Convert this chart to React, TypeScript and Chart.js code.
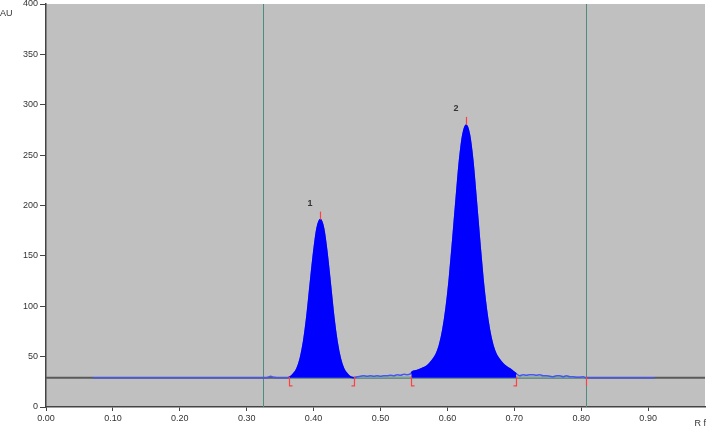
import { useEffect, useRef } from "react";
import { Chart, registerables } from "chart.js";

Chart.register(...registerables);

// ---- data ----
const TRACE_RF = [
  0.07, 0.3, 0.33, 0.336, 0.34, 0.345, 0.355, 0.36,
  0.365, 0.37, 0.375, 0.38, 0.385, 0.39, 0.395, 0.4, 0.405, 0.41, 0.415, 0.42, 0.425, 0.43, 0.435, 0.44, 0.445, 0.45, 0.455, 0.46,
  0.465, 0.47, 0.475, 0.48, 0.485, 0.49, 0.495, 0.5, 0.505, 0.51, 0.515, 0.52, 0.525, 0.53, 0.535, 0.54, 0.545,
  0.548, 0.553, 0.558, 0.563, 0.568, 0.573, 0.578, 0.583, 0.588, 0.593, 0.598, 0.603, 0.608, 0.613, 0.618, 0.623, 0.628,
  0.633, 0.638, 0.643, 0.648, 0.653, 0.658, 0.663, 0.668, 0.673, 0.678, 0.683, 0.688, 0.693, 0.698, 0.703,
  0.708, 0.713, 0.718, 0.723, 0.728, 0.733, 0.738, 0.743, 0.748, 0.753, 0.758, 0.763, 0.768, 0.773, 0.778, 0.783, 0.788, 0.793, 0.798, 0.803, 0.807, 0.91,
];
const TRACE_AU = [
  29, 29, 29, 30.5, 29.5, 29, 29, 29,
  30, 33, 38, 48, 65, 90, 122, 153, 177, 186, 177, 153, 122, 90, 65, 48, 38, 33, 30, 29,
  30, 30.5, 31, 30.5, 31, 30.5, 31, 30.5, 31, 31, 31.5, 31, 32, 31.5, 32.5, 32, 33,
  35, 36, 37, 38.5, 40, 43, 47, 52, 61, 76, 98, 128, 166, 206, 244, 270, 280,
  270, 244, 206, 166, 128, 98, 76, 61, 52, 47, 43, 40, 38, 35.5, 33,
  31, 32, 31.5, 32, 32, 31.5, 32, 31, 31, 30.5, 30, 31, 31, 30, 31, 30, 30, 29.5, 29.5, 30, 29, 29,
];

const PEAK_LABELS = ["1", "2"];
const PEAK_RF = [0.41, 0.628];
const PEAK_AU = [186, 280];
const PEAK_START = [0.363, 0.546];
const PEAK_END = [0.46, 0.703];
const TRACK_LIMITS = [0.325, 0.807];
const BASELINE_AU = 29;

const X_MIN = 0;
const X_MAX = 0.985;
const Y_MIN = 0;
const Y_MAX = 400;
const X_TICKS = [0, 0.1, 0.2, 0.3, 0.4, 0.5, 0.6, 0.7, 0.8, 0.9];
const Y_TICKS = [0, 50, 100, 150, 200, 250, 300, 350, 400];

const FONT = "'Liberation Sans', Arial, sans-serif";

function traceAt(x: number): number {
  for (let i = 0; i < TRACE_RF.length - 1; i++) {
    const a = TRACE_RF[i];
    const b = TRACE_RF[i + 1];
    if (x >= a && x <= b) {
      const t = (x - a) / (b - a);
      return TRACE_AU[i] + t * (TRACE_AU[i + 1] - TRACE_AU[i]);
    }
  }
  return BASELINE_AU;
}

function peakFill(start: number, end: number) {
  const pts: { x: number; y: number }[] = [{ x: start, y: traceAt(start) }];
  TRACE_RF.forEach((x, i) => {
    if (x > start && x < end) pts.push({ x, y: TRACE_AU[i] });
  });
  pts.push({ x: end, y: traceAt(end) });
  return pts;
}

const decorPlugin = {
  id: "decor",
  beforeDraw(chart: any) {
    const { ctx, chartArea } = chart;
    ctx.save();
    ctx.fillStyle = "#c0c0c0";
    ctx.fillRect(chartArea.left, chartArea.top, chartArea.right - chartArea.left, chartArea.bottom - chartArea.top);
    ctx.restore();
  },
  beforeDatasetsDraw(chart: any) {
    const { ctx, chartArea, scales } = chart;
    ctx.save();
    ctx.strokeStyle = "#4e8c7e";
    ctx.lineWidth = 1;
    TRACK_LIMITS.forEach((v) => {
      const x = Math.round(scales.x.getPixelForValue(v)) + 0.5;
      ctx.beginPath();
      ctx.moveTo(x, chartArea.top);
      ctx.lineTo(x, chartArea.bottom);
      ctx.stroke();
    });
    ctx.restore();
  },
  afterDatasetsDraw(chart: any) {
    const { ctx, scales } = chart;
    const xs = scales.x;
    const ys = scales.y;
    const base = ys.getPixelForValue(BASELINE_AU);
    ctx.save();
    ctx.strokeStyle = "#ff4040";
    ctx.lineWidth = 1.2;
    const bracket = (v: number, dir: number) => {
      const x = Math.round(xs.getPixelForValue(v)) + 0.5;
      ctx.beginPath();
      ctx.moveTo(x, base - 1);
      ctx.lineTo(x, base + 8);
      if (dir !== 0) ctx.lineTo(x + dir * 3, base + 8);
      ctx.stroke();
    };
    PEAK_START.forEach((v) => bracket(v, 1));
    PEAK_END.forEach((v) => bracket(v, -1));
    bracket(TRACK_LIMITS[1], 0);
    PEAK_RF.forEach((v, i) => {
      const x = Math.round(xs.getPixelForValue(v)) + 0.5;
      const y = ys.getPixelForValue(PEAK_AU[i]);
      ctx.beginPath();
      ctx.moveTo(x, y);
      ctx.lineTo(x, y - 8);
      ctx.stroke();
      ctx.fillStyle = "#333";
      ctx.font = `bold 9px ${FONT}`;
      ctx.textAlign = "center";
      ctx.textBaseline = "middle";
      ctx.fillText(PEAK_LABELS[i], x - 10.5, y - 16.5);
    });
    ctx.fillStyle = "#333";
    ctx.font = `9px ${FONT}`;
    ctx.textAlign = "left";
    ctx.textBaseline = "middle";
    ctx.fillText("AU", 0, 14);
    ctx.textAlign = "right";
    ctx.fillText("R f", 706, 424);
    ctx.restore();
  },
};

export default function App() {
  const ref = useRef<HTMLCanvasElement | null>(null);
  useEffect(() => {
    if (!ref.current) return;
    const trace = TRACE_RF.map((x, i) => ({ x, y: TRACE_AU[i] }));
    const datasets: any[] = [
      {
        data: [
          { x: X_MIN, y: BASELINE_AU },
          { x: X_MAX, y: BASELINE_AU },
        ],
        borderColor: "#5a5a5a",
        borderWidth: 2,
        pointRadius: 0,
        order: 6,
      },
      {
        data: [
          { x: PEAK_START[0], y: BASELINE_AU },
          { x: TRACK_LIMITS[1], y: BASELINE_AU },
        ],
        borderColor: "#6fa89a",
        borderWidth: 1.5,
        pointRadius: 0,
        order: 5,
      },
      {
        data: trace,
        borderColor: "#4656ee",
        borderWidth: 1.5,
        pointRadius: 0,
        cubicInterpolationMode: "monotone",
        order: 4,
      },
      ...PEAK_START.map((s, i) => ({
        data: peakFill(s, PEAK_END[i]),
        borderColor: "#0000ff",
        backgroundColor: "#0000ff",
        borderWidth: 1.5,
        pointRadius: 0,
        fill: { value: BASELINE_AU },
        cubicInterpolationMode: "monotone",
        order: 2,
      })),
    ];
    const chart = new Chart(ref.current, {
      type: "line",
      data: { datasets },
      options: {
        animation: false,
        responsive: false,
        events: [],
        layout: { padding: { top: 4, right: 2, left: 0, bottom: 0 } },
        plugins: { legend: { display: false }, tooltip: { enabled: false } },
        scales: {
          x: {
            type: "linear",
            min: X_MIN,
            max: X_MAX,
            afterBuildTicks: (s: any) => {
              s.ticks = X_TICKS.map((v) => ({ value: v }));
            },
            afterFit: (s: any) => {
              s.height = 22;
              s.paddingLeft = 0;
              s.paddingRight = 0;
            },
            ticks: {
              callback: (v: any) => Number(v).toFixed(2),
              font: { family: FONT, size: 9 },
              color: "#333",
              padding: 2,
              maxRotation: 0,
              autoSkip: false,
            },
            grid: { drawOnChartArea: false, drawTicks: true, tickLength: 4, color: "#444" },
            border: { color: "#444", width: 1.5 },
          },
          y: {
            type: "linear",
            min: Y_MIN,
            max: Y_MAX,
            afterBuildTicks: (s: any) => {
              s.ticks = Y_TICKS.map((v) => ({ value: v }));
            },
            afterFit: (s: any) => {
              s.width = 46;
              s.paddingTop = 0;
              s.paddingBottom = 0;
            },
            ticks: {
              font: { family: FONT, size: 9 },
              color: "#333",
              padding: 2,
              autoSkip: false,
            },
            grid: { drawOnChartArea: false, drawTicks: true, tickLength: 6, color: "#444" },
            border: { color: "#444", width: 1.5 },
          },
        },
      },
      plugins: [decorPlugin],
    } as any);
    return () => chart.destroy();
  }, []);
  return (
    <div style={{ position: "fixed", left: 0, top: 0, width: 707, height: 429, background: "#fff" }}>
      <canvas ref={ref} width={707} height={429} style={{ display: "block" }} />
    </div>
  );
}
